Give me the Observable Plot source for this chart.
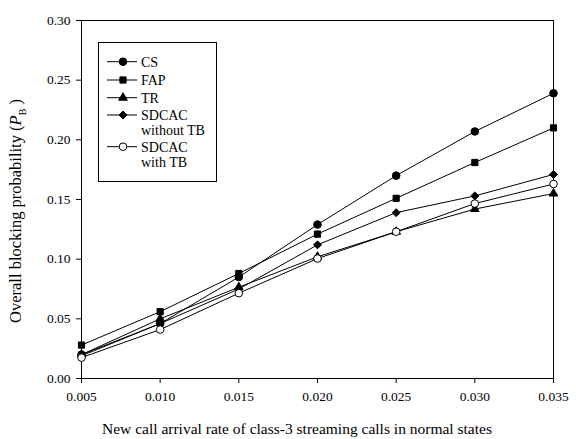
<!DOCTYPE html>
<html>
<head>
<meta charset="utf-8">
<script src="https://cdn.jsdelivr.net/npm/d3@7"></script>
<script src="https://cdn.jsdelivr.net/npm/@observablehq/plot@0.6"></script>
<style>
  body { margin: 0; background: #fff; }
  #wrap { position: relative; width: 576px; height: 439px; font-family: "Liberation Serif", serif; }
  #wrap svg, #wrap svg text { font-family: "Liberation Serif", serif !important; }
  #ylab { position: absolute; left: 17px; top: 211px; transform: translate(-50%, -50%) rotate(-90deg); white-space: nowrap; font-size: 16.5px; font-family: "Liberation Serif", serif; }
  #xlab { position: absolute; left: 297px; top: 429px; transform: translate(-50%, -50%); white-space: nowrap; font-size: 15.5px; font-family: "Liberation Serif", serif; }
  #legend { position: absolute; left: 0; top: 0; }
</style>
</head>
<body>
<div id="wrap"></div>
<script>
const rates = [0.005, 0.010, 0.015, 0.020, 0.025, 0.030, 0.035];
const xTicks = [0.005, 0.010, 0.015, 0.020, 0.025, 0.030, 0.035];
const yTicks = [0, 0.05, 0.10, 0.15, 0.20, 0.25, 0.30];
const seriesNames = ["CS", "FAP", "TR", "SDCAC without TB", "SDCAC with TB"];
const legendLines = [["CS"], ["FAP"], ["TR"], ["SDCAC", "without TB"], ["SDCAC", "with TB"]];
const cs   = [0.020, 0.046, 0.085, 0.129, 0.170, 0.207, 0.239];
const fap  = [0.028, 0.056, 0.088, 0.121, 0.151, 0.181, 0.210];
const tr   = [0.020, 0.050, 0.0765, 0.102, 0.123, 0.142, 0.155];
const sdNo = [0.019, 0.046, 0.075, 0.112, 0.139, 0.153, 0.171];
const sdTB = [0.0175, 0.041, 0.0715, 0.1005, 0.123, 0.1466, 0.163];
const symbols = ["circle", "square", "triangle", "diamond2", "circle"];
const fills = ["black", "black", "black", "black", "white"];
const sizes = [3.8, 3.5, 3.2, 3.6, 3.8];

const allValues = [cs, fap, tr, sdNo, sdTB];
const data = [];
allValues.forEach((vals, i) => vals.forEach((v, j) => data.push({series: seriesNames[i], x: rates[j], y: v})));

const marks = [Plot.frame({stroke: "black", strokeWidth: 1})];
seriesNames.forEach((name) => {
  const d = data.filter(e => e.series === name);
  marks.push(Plot.line(d, {x: "x", y: "y", stroke: "black", strokeWidth: 1}));
});
seriesNames.forEach((name, i) => {
  const d = data.filter(e => e.series === name);
  marks.push(Plot.dot(d, {x: "x", y: "y", symbol: () => symbols[i], fill: fills[i], stroke: "black", strokeWidth: 1, r: sizes[i]}));
});

const chart = Plot.plot({
  width: 576,
  height: 439,
  marginLeft: 81,
  marginRight: 23,
  marginTop: 20,
  marginBottom: 61,
  style: {fontFamily: "'Liberation Serif', serif", fontSize: "13px", color: "black", background: "white"},
  symbol: {type: "identity"},
  x: {domain: [0.005, 0.035], ticks: xTicks, tickFormat: d3.format(".3f"), tickSize: 5, tickPadding: 8, label: null},
  y: {domain: [0, 0.30], ticks: yTicks, tickFormat: d3.format(".2f"), tickSize: 5, tickPadding: 6, label: null},
  marks
});
d3.select(chart).selectAll("text").style("font-family", "'Liberation Serif', serif").style("font-size", "13.5px");
const wrap = document.getElementById("wrap");
wrap.appendChild(chart);

const ylab = document.createElement("div");
ylab.id = "ylab";
ylab.innerHTML = "Overall blocking probability (<i>P</i><sub style='font-size:10px'>B</sub> )";
wrap.appendChild(ylab);
const xlab = document.createElement("div");
xlab.id = "xlab";
xlab.textContent = "New call arrival rate of class-3 streaming calls in normal states";
wrap.appendChild(xlab);

// Legend
const svg = d3.select(wrap).append("svg").attr("id", "legend").attr("width", 576).attr("height", 439)
  .style("font-size", "14px");
svg.append("rect").attr("x", 98.5).attr("y", 42.5).attr("width", 118).attr("height", 139)
  .attr("fill", "white").attr("stroke", "black").attr("stroke-width", 1);
const rowY = [61.7, 80, 97.7, 115, 146.7];
const symMap = {circle: d3.symbolCircle, square: d3.symbolSquare, triangle: d3.symbolTriangle, diamond2: d3.symbolDiamond2};
legendLines.forEach((lines, i) => {
  const y = rowY[i];
  svg.append("line").attr("x1", 107).attr("x2", 137).attr("y1", y).attr("y2", y).attr("stroke", "black");
  const area = Math.PI * sizes[i] * sizes[i];
  svg.append("path").attr("d", d3.symbol(symMap[symbols[i]], area)()).attr("transform", `translate(123,${y})`)
    .attr("fill", fills[i]).attr("stroke", "black");
  lines.forEach((t, k) => {
    svg.append("text").attr("x", 141).attr("y", y + k * 15.3).attr("dy", "0.35em").text(t);
  });
});
</script>
</body>
</html>
